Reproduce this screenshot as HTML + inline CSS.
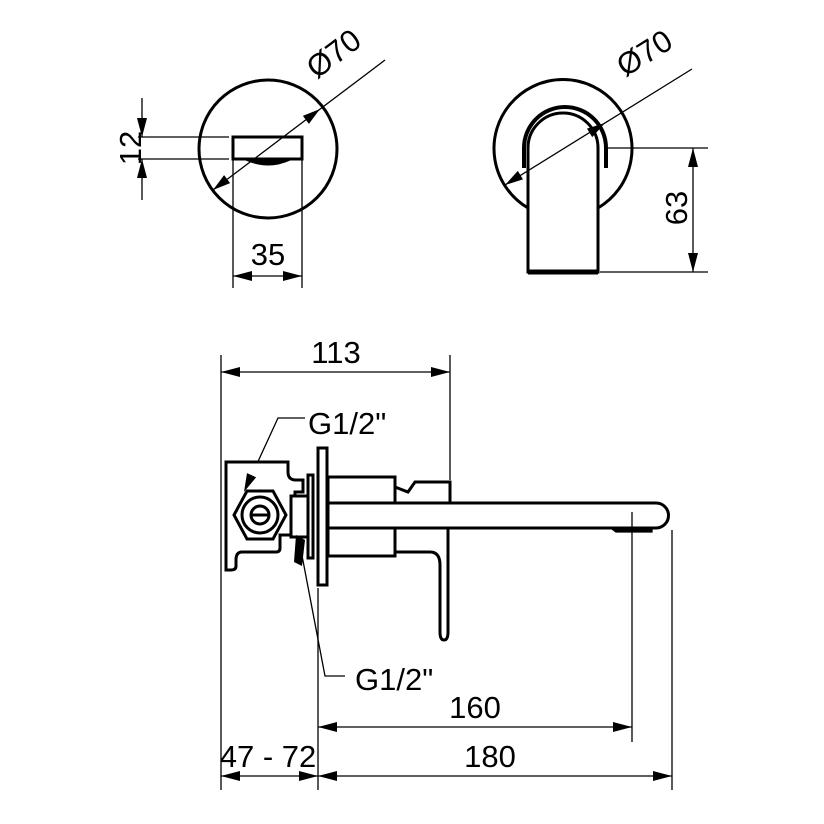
<!DOCTYPE html>
<html><head><meta charset="utf-8"><style>html,body{margin:0;background:#fff}svg{display:block}text{font-family:"Liberation Sans",Arial,sans-serif;font-size:31px;fill:#000}</style></head><body>
<svg width="824" height="824" viewBox="0 0 824 824" xmlns="http://www.w3.org/2000/svg">
<g fill="none" stroke="#000" stroke-width="1.3">
<circle cx="268" cy="149" r="69" stroke-width="3"/>
<rect x="233" y="137" width="69" height="22" stroke-width="3"/>
<path d="M246,160 Q268,170 290,160 Z" fill="#000" stroke-width="1"/>
<path d="M138,137H229M138,159H229M142,98V137M142,159V200"/>
<path d="M233,160V288M302,160V288"/>
<path d="M233,276H302"/>
<path d="M213,190L385,60"/>
<path d="M528,208 A69,69 0 1 1 598,208" stroke-width="3"/>
<path d="M524,168V148 A41,41 0 0 1 606,148 V168" fill="#fff" stroke-width="4"/>
<path d="M528,272V148 A35,35 0 0 1 598,148 V272 Z" fill="#fff" stroke-width="3"/>
<path d="M528,272H598" stroke-width="5"/>
<path d="M505,185L692,69"/>
<path d="M608,148H708M600,272H708"/>
<path d="M693,148V272"/>
<path d="M221,355V790M450,355V480"/>
<path d="M221,372H450"/>
<path d="M305,418H278L244,492"/>
<g stroke-width="3">
<path d="M226,462H288V472Q288,480 296,480H303V492H295V535H280V548Q280,552 276,552H242Q236,552 236,560V566Q236,570 231,570H226Z" fill="#fff"/>
<path d="M247,491H273L286,515L273,539H247L234,515Z" fill="#fff"/>
<circle cx="260" cy="515" r="18"/>
<circle cx="260" cy="515" r="9"/>
<path d="M252,515H268"/>
<rect x="291" y="496" width="18" height="41" fill="#fff"/>
<rect x="308" y="475" width="5" height="83" fill="#fff"/>
<rect x="318" y="448" width="9" height="137" fill="#fff"/>
<rect x="328" y="477" width="67" height="79" fill="#fff"/>
<path d="M395,487L408,492L415,482H450V503"/>
<path d="M395,552H430Q440,552 440,565V632Q440,640 444,640Q448,640 448,632V527"/>
<path d="M328,503H656A12,12 0 0 1 656,528H328Z" fill="#fff"/>
</g>
<path d="M612,529H652V532H616Z" fill="#000"/>
<path d="M300,545L325,676H345"/>
<path d="M318,588V790M632,512V742M672,530V790"/>
<path d="M318,727H632"/>
<path d="M221,776H672"/>
</g>
<g fill="#000">
<polygon points="233,276 252,271 252,281"/><polygon points="302,276 283,271 283,281"/>
<polygon points="221,372 240,367 240,377"/><polygon points="450,372 431,367 431,377"/>
<polygon points="318,727 337,722 337,732"/><polygon points="632,727 613,722 613,732"/>
<polygon points="221,776 240,771 240,781"/><polygon points="318,776 299,771 299,781"/>
<polygon points="318,776 337,771 337,781"/><polygon points="672,776 653,771 653,781"/>
<polygon points="142,137 137,118 147,118"/><polygon points="142,159 137,178 147,178"/>
<polygon points="693,148 688,167 698,167"/><polygon points="693,272 688,253 698,253"/>
<polygon points="213,190 230.1,183.1 224.1,175.1"/><polygon points="320,109 302.9,115.9 308.9,123.9"/>
<polygon points="505,185 523.0,179.4 517.8,170.9"/><polygon points="605,123 587.0,128.6 592.2,137.1"/>
<polygon points="244,492 256.1,477.3 247.0,473.1"/>
<path d="M296,535L305,540L302,566L294,562Z"/>
</g>
<text x="130" y="148" text-anchor="middle" transform="rotate(-90 130 148)" dy="11">12</text>
<text x="268" y="265" text-anchor="middle">35</text>
<text x="340" y="62" text-anchor="middle" transform="rotate(-37 340 62)">Ø70</text>
<text x="650" y="62" text-anchor="middle" transform="rotate(-32 650 62)">Ø70</text>
<text x="676" y="208" text-anchor="middle" transform="rotate(-90 676 208)" dy="11">63</text>
<text x="336" y="363" text-anchor="middle">113</text>
<text x="308" y="434">G1/2"</text>
<text x="355" y="690">G1/2"</text>
<text x="475" y="718" text-anchor="middle">160</text>
<text x="490" y="767" text-anchor="middle">180</text>
<text x="268" y="767" text-anchor="middle">47 - 72</text>
</svg>
</body></html>
